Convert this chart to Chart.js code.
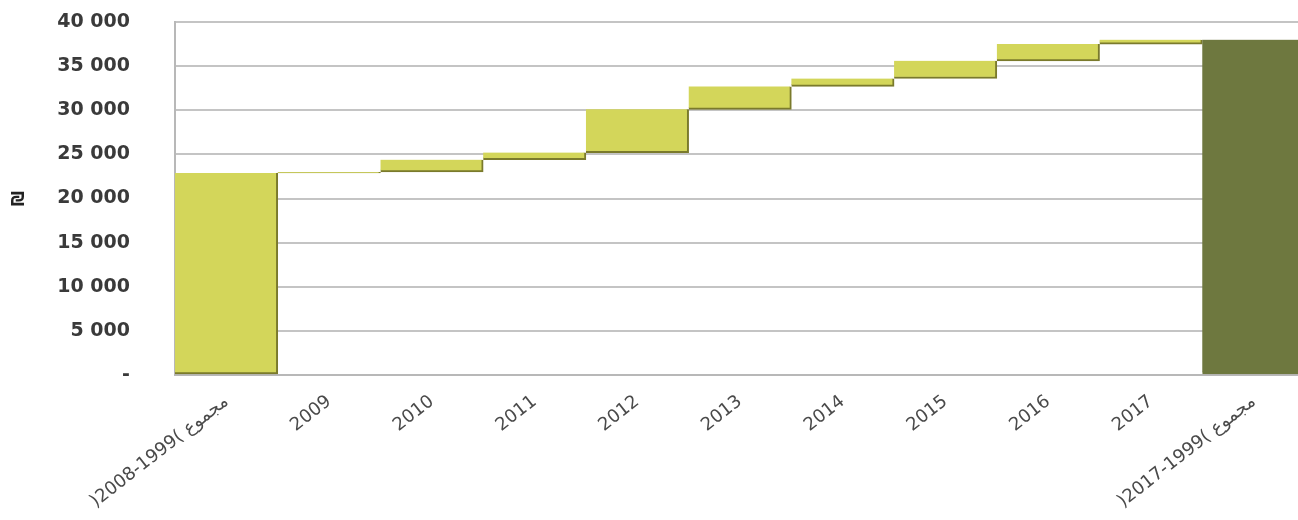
<!DOCTYPE html>
<html>
<head>
<meta charset="utf-8">
<script src="https://cdn.jsdelivr.net/npm/chart.js@4/dist/chart.umd.min.js"></script>
<style>
  html, body { margin: 0; padding: 0; background: #fff; overflow: hidden; }
</style>
</head>
<body>
<canvas id="myChart" width="1305" height="520"></canvas>
<script>
// categories (x axis)
var labels = [')2008-1999( مجموع', '2009', '2010', '2011', '2012', '2013', '2014', '2015', '2016', '2017', ')2017-1999( مجموع'];
// bottom and top of each floating bar (₪)
var barLow  = [0,     22900, 23000, 24400, 25200, 30100, 32700, 33600, 35600, 37500, 0];
var barHigh = [22900, 23000, 24400, 25200, 30100, 32700, 33600, 35600, 37500, 38000, 38000];
// y ticks
var yMax = 40000;
var yStep = 5000;

function drawChart()
{
    var ctx = document.getElementById('myChart').getContext('2d');
    var fills = labels.map(function (l, i) { return i == labels.length - 1 ? '#6e783f' : '#d3d65a'; });
    var edges = labels.map(function (l, i) { return i == labels.length - 1 ? '#6e783f' : '#7a7a2c'; });
    var chart = new Chart(ctx, {
        type: 'bar',
        data: {
            labels: labels,
            datasets: [{
                data: barLow.map(function (v, i) { return [v, barHigh[i]]; }),
                backgroundColor: fills,
                borderColor: edges,
                borderWidth: { top: 0, left: 0, right: 2, bottom: 2 },
                borderSkipped: false,
                barPercentage: 1,
                categoryPercentage: 1
            }]
        },
        options: {
            responsive: false,
            animation: false,
            layout: { padding: { top: 22, right: 0, left: 0, bottom: 0 } },
            plugins: {
                legend: { display: false },
                tooltip: { enabled: false }
            },
            scales: {
                x: {
                    afterFit: function (scale) { scale.height = 145; },
                    grid: { display: false, drawTicks: false },
                    border: { color: '#b8b8b8', width: 2 },
                    ticks: {
                        minRotation: 38,
                        maxRotation: 38,
                        padding: 16,
                        color: '#4a4a4a',
                        font: { family: 'DejaVu Sans', size: 18 }
                    }
                },
                y: {
                    min: 0,
                    max: yMax,
                    afterFit: function (scale) {
                        scale.width = 175;
                        // big tick padding is only meant horizontally
                        scale.paddingTop = 0;
                        scale.paddingBottom = 0;
                    },
                    grid: { color: '#c4c4c4', lineWidth: 2, drawTicks: false },
                    border: { color: '#b8b8b8', width: 2 },
                    title: {
                        display: true,
                        text: '₪',
                        color: '#222',
                        padding: { top: 9, bottom: 0 },
                        font: { family: 'DejaVu Sans', size: 17, weight: 'bold' }
                    },
                    ticks: {
                        stepSize: yStep,
                        padding: 45,
                        color: '#3a3a3a',
                        font: { family: 'DejaVu Sans', size: 19, weight: 'bold' },
                        callback: function (v) {
                            if (v == 0) return '-';
                            return String(v).replace(/\B(?=(\d{3})+(?!\d))/g, ' ');
                        }
                    }
                }
            }
        }
    });
}
drawChart();
</script>
</body>
</html>
